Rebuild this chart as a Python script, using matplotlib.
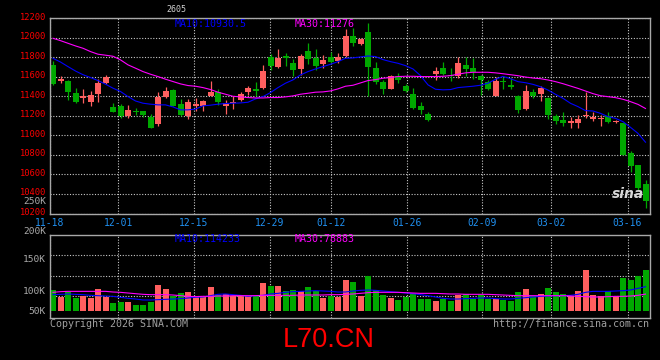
import matplotlib
matplotlib.use("Agg")
import matplotlib.pyplot as plt
import matplotlib.transforms as mtransforms
import numpy as np

# ---- data (80 trading days) ----
opens = [11720, 11555, 11560, 11430, 11385, 11340, 11425, 11540, 11290, 11305,
         11195, 11255, 11250, 11190, 11120, 11390, 11465, 11325, 11195, 11300,
         11305, 11405, 11450, 11305, 11330, 11365, 11445, 11475, 11485, 11805,
         11705, 11810, 11740, 11680, 11865, 11795, 11730, 11805, 11760, 11815,
         12020, 11940, 12060, 11690, 11545, 11475, 11610, 11505, 11425, 11305,
         11220, 11630, 11690, 11620, 11605, 11720, 11695, 11610, 11550, 11405,
         11555, 11515, 11405, 11270, 11440, 11420, 11385, 11200, 11155, 11130,
         11130, 11195, 11170, 11170, 11200, 11135, 11125, 10815, 10695, 10500]
closes = [11530, 11575, 11440, 11345, 11400, 11415, 11540, 11595, 11240, 11200,
          11260, 11240, 11205, 11080, 11395, 11455, 11305, 11210, 11345, 11320,
          11355, 11450, 11340, 11335, 11345, 11425, 11490, 11460, 11655, 11715,
          11795, 11798, 11670, 11815, 11780, 11715, 11770, 11755, 11800, 12020,
          11950, 11990, 11705, 11550, 11475, 11610, 11570, 11455, 11285, 11260,
          11160, 11665, 11630, 11610, 11740, 11680, 11650, 11565, 11480, 11560,
          11545, 11500, 11260, 11455, 11400, 11490, 11210, 11150, 11130, 11145,
          11170, 11200, 11190, 11178, 11135, 11150, 10800, 10690, 10460, 10330]
highs = [11760, 11610, 11570, 11485, 11480, 11455, 11575, 11615, 11330, 11320,
         11310, 11280, 11255, 11215, 11440, 11500, 11475, 11370, 11370, 11385,
         11365, 11560, 11475, 11365, 11405, 11440, 11510, 11550, 11720, 11835,
         11885, 11840, 11785, 11830, 11945, 11885, 11825, 11850, 11845, 12090,
         12100, 11995, 12150, 11750, 11570, 11620, 11640, 11525, 11485, 11340,
         11245, 11700, 11755, 11690, 11800, 11800, 11790, 11615, 11570, 11600,
         11595, 11585, 11415, 11515, 11480, 11510, 11395, 11215, 11235, 11190,
         11205, 11450, 11235, 11210, 11235, 11155, 11130, 10840, 10700, 10545]
lows = [11520, 11535, 11365, 11330, 11330, 11300, 11345, 11530, 11235, 11175,
        11180, 11205, 11190, 11080, 11100, 11380, 11300, 11195, 11165, 11250,
        11255, 11400, 11315, 11220, 11275, 11355, 11415, 11400, 11475, 11670,
        11690, 11715, 11610, 11620, 11735, 11670, 11690, 11740, 11740, 11805,
        11920, 11925, 11400, 11530, 11425, 11475, 11535, 11445, 11270, 11220,
        11150, 11570, 11615, 11560, 11585, 11605, 11580, 11415, 11470, 11405,
        11480, 11475, 11225, 11260, 11380, 11355, 11165, 11115, 11095, 11075,
        11075, 11180, 11150, 11100, 11125, 11130, 10795, 10630, 10440, 10255]
ma10 = [11790, 11752, 11705, 11660, 11622, 11593, 11562, 11525, 11484, 11450,
        11398, 11353, 11330, 11320, 11313, 11313, 11292, 11262, 11262, 11270,
        11303, 11310, 11320, 11327, 11330, 11333, 11340, 11374, 11398, 11439,
        11490, 11535, 11569, 11620, 11654, 11681, 11705, 11729, 11756, 11790,
        11794, 11804, 11814, 11808, 11777, 11756, 11739, 11715, 11681, 11613,
        11518, 11473, 11467, 11470, 11490, 11497, 11504, 11514, 11535, 11575,
        11605, 11581, 11551, 11540, 11523, 11499, 11465, 11421, 11380, 11329,
        11295, 11254, 11250, 11226, 11192, 11175, 11141, 11083, 11021, 10930.5]
ma30 = [11995, 11971, 11944, 11917, 11893, 11859, 11832, 11822, 11811, 11774,
        11723, 11689, 11654, 11627, 11603, 11576, 11552, 11528, 11511, 11504,
        11490, 11470, 11443, 11422, 11401, 11395, 11388, 11384, 11384, 11388,
        11388, 11395, 11405, 11422, 11432, 11443, 11446, 11456, 11477, 11504,
        11514, 11538, 11562, 11572, 11586, 11593, 11603, 11606, 11606, 11603,
        11603, 11603, 11606, 11613, 11627, 11641, 11647, 11647, 11647, 11641,
        11632, 11622, 11612, 11598, 11588, 11581, 11568, 11551, 11530, 11506,
        11482, 11455, 11428, 11407, 11397, 11387, 11370, 11346, 11318, 11276]
volume = [98400, 65100, 88900, 60300, 68200, 60300, 103200, 63500, 36500, 41300,
          41300, 27000, 27000, 41300, 122200, 103200, 71400, 84100, 87300, 71400,
          65100, 112700, 76200, 80900, 68200, 68200, 68200, 68200, 131700, 117400,
          117400, 93600, 98400, 92000, 112700, 92000, 60300, 71400, 65100, 146000,
          136500, 71400, 166600, 96800, 76200, 60300, 52400, 65100, 80900, 57100,
          57100, 47600, 55500, 47600, 76200, 80900, 57100, 76200, 57100, 57100,
          52400, 47600, 88900, 103200, 68200, 79400, 107900, 88900, 80900, 71400,
          93600, 193600, 76200, 71400, 95200, 71400, 155500, 146000, 166600, 193600]
vol_ma10 = [76200, 77800, 79400, 77800, 76200, 73000, 71400, 69800, 68200, 63500,
            58700, 55500, 50800, 50800, 52400, 54000, 55500, 57100, 60300, 63500,
            65100, 71400, 77800, 79400, 76200, 73000, 68200, 71400, 73000, 79400,
            82500, 87300, 90500, 92000, 93600, 95200, 93600, 92000, 88900, 88900,
            93600, 96800, 98400, 96800, 93600, 90500, 87300, 84100, 80900, 76200,
            71400, 65100, 58700, 55500, 55500, 57100, 58700, 60300, 60300, 57100,
            55500, 55500, 58700, 61900, 65100, 68200, 69800, 71400, 71400, 73000,
            77800, 87300, 92000, 92000, 92000, 93600, 95200, 98400, 106300, 114233]
vol_ma30 = [87300, 90500, 92000, 92000, 92000, 92000, 92000, 92000, 88900, 87300,
            84100, 80900, 77800, 76200, 76200, 76200, 74600, 71400, 68200, 66700,
            68200, 68200, 69800, 69800, 71400, 71400, 71400, 71400, 73000, 73000,
            73000, 73000, 73000, 74600, 74600, 74600, 74600, 76200, 76200, 77800,
            79400, 82500, 85700, 87300, 87300, 87300, 87300, 85700, 84100, 82500,
            82500, 82500, 80900, 79400, 79400, 77800, 77800, 77800, 77800, 76200,
            74600, 73000, 71400, 71400, 71400, 71400, 71400, 71400, 71400, 69800,
            68200, 66700, 65100, 65100, 66700, 68200, 68200, 69800, 73000, 78883]
date_labels = ['11-18', '12-01', '12-15', '12-29', '01-12', '01-26', '02-09', '03-02', '03-16']
date_pos = [-0.4, 8.7, 18.8, 28.9, 37.1, 47.2, 57.2, 66.4, 76.6]
price_ticks = [10200, 10400, 10600, 10800, 11000, 11200, 11400, 11600, 11800, 12000, 12200]
vol_labels = ['250K', '200K', '150K', '100K', '50K']

RED = '#ff5f5f'
GREEN = '#00a800'
GRID = '#c8c8c8'
MONO = 'DejaVu Sans Mono'

x = np.arange(len(opens))
o = np.array(opens); c = np.array(closes)
up = c >= o
colors = [RED if u else GREEN for u in up]

fig = plt.figure(figsize=(6.6, 3.6), dpi=100, facecolor='black')
ax = fig.add_axes([50/660, 1-213.5/360, 600/660, (213.5-18.3)/360])
axv = fig.add_axes([50/660, 1-318/360, 600/660, (318-234.7)/360])

for a in (ax, axv):
    a.set_facecolor('black')
    a.set_xlim(-0.4, 79.6)
    a.set_axisbelow(True)
    for s in a.spines.values():
        s.set_color('#a8a8a8')
        s.set_linewidth(1.0)
    a.set_xticks(date_pos)
    a.grid(True, color=GRID, linestyle=(0, (1, 1.5)), linewidth=0.8)
    a.tick_params(length=0)

# price panel
ax.set_ylim(10200, 12200)
ax.set_yticks(price_ticks)
ax.set_yticklabels([str(t) for t in price_ticks], color='#ff0000',
                   fontsize=6.3, family=MONO)
ax.tick_params(axis='y', pad=3)
# labels sit a couple of pixels above their grid line
shift = mtransforms.ScaledTranslation(0, 2/100, fig.dpi_scale_trans)
for lbl in ax.get_yticklabels():
    lbl.set_transform(lbl.get_transform() + shift)
ax.set_xticklabels(date_labels, color='#2090f0', fontsize=7, family=MONO)
ax.tick_params(axis='x', pad=3)

ax.vlines(x, lows, highs, colors=colors, linewidth=0.9, zorder=2)
body_h = np.maximum(np.abs(c - o), 10)
ax.bar(x, body_h, bottom=np.minimum(o, c), width=0.8, color=colors,
       linewidth=0, zorder=2)
ax.plot(x, ma10, color='#0000ff', linewidth=0.8, zorder=3)
ax.plot(x, ma30, color='#ff00ff', linewidth=0.8, zorder=3)

# volume panel
axv.set_ylim(-35000, 362000)
axv.set_yticks([71000, 167000, 264000])
axv.set_yticklabels([])
axv.set_xticklabels([])
axv.bar(x, volume, width=0.8, color=colors, linewidth=0, zorder=2)
axv.plot(x, vol_ma10, color='#0000ff', linewidth=0.8, zorder=3)
axv.plot(x, vol_ma30, color='#ff00ff', linewidth=0.8, zorder=3)

def ftext(px, py, s, **kw):
    fig.text(px/660, 1-py/360, s, **kw)

ftext(175, 24, 'MA10:%.1f' % ma10[-1], color='#0000ff', fontsize=7.2,
      family=MONO, va='center')
ftext(295, 24, 'MA30:%d' % ma30[-1], color='#ff00ff', fontsize=7.2,
      family=MONO, va='center')
ftext(175, 239, 'MA10:%d' % vol_ma10[-1], color='#0000ff', fontsize=7.2,
      family=MONO, va='center')
ftext(295, 239, 'MA30:%d' % vol_ma30[-1], color='#ff00ff', fontsize=7.2,
      family=MONO, va='center')
ftext(176, 9, '2605', color='#d0d0d0', fontsize=6, family=MONO,
      ha='center', va='center')

for lab, py in zip(vol_labels, [201.5, 231, 260, 291, 311]):
    ftext(46, py, lab, color='#aaaaaa', fontsize=6.8, family=MONO,
          ha='right', va='center')

ftext(50, 324, 'Copyright 2026 SINA.COM', color='#a0a0a0', fontsize=7.2,
      family=MONO, va='center')
ftext(649, 324, 'http://finance.sina.com.cn', color='#a0a0a0', fontsize=7.2,
      family=MONO, ha='right', va='center')
ftext(329, 340, 'L70.CN', color='#ff0000', fontsize=19.5,
      family='Liberation Sans', ha='center', va='center')
ftext(628, 194, 'sina', color='#d8d8d8', fontsize=10, style='italic',
      weight='bold', ha='center', va='center')

fig.savefig('out.png', dpi=100, facecolor='black')
